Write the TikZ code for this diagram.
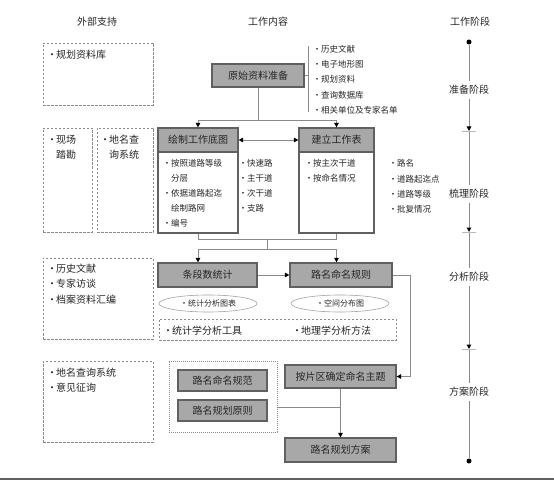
\documentclass[tikz,border=0pt]{standalone}
\usepackage{fontspec}
\setmainfont{Noto Sans CJK SC}
\usetikzlibrary{arrows.meta,calc,shapes.geometric}
\definecolor{boxfill}{HTML}{A8A8A8}
\definecolor{boxline}{HTML}{606060}
\definecolor{conncol}{HTML}{8A8A8A}
\definecolor{txt}{HTML}{262626}
\newcommand\fsL{\fontsize{10bp}{12bp}\selectfont}
\newcommand\fsS{\fontsize{8.5bp}{10bp}\selectfont}
\newcommand\fsE{\fontsize{8bp}{10bp}\selectfont}
\newcommand\bl{\makebox[8bp][c]{·}}
\newcommand\ind{\hspace*{8bp}}
\begin{document}
\begin{tikzpicture}[x=1bp,y=-1bp,
  every node/.style={text=txt, inner sep=0pt},
  gbox/.style={draw=boxline, fill=boxfill, line width=1.2bp, font=\fsL},
  wbox/.style={draw=boxline, fill=white, line width=1.2bp},
  dbox/.style={draw=conncol, dash pattern=on 2.5bp off 1.5bp, line width=0.8bp},
  obox/.style={draw=conncol, dash pattern=on 1bp off 1bp, line width=0.8bp},
  conn/.style={draw=conncol, line width=0.9bp},
  arr/.style={-{Triangle[length=4.5bp,width=4.5bp,color=black]}},
  darr/.style={{Triangle[length=4.5bp,width=4.5bp,color=black]}-{Triangle[length=4.5bp,width=4.5bp,color=black]}},
  lst/.style={font=\fsS, anchor=west},
  big/.style={font=\fsL, anchor=west},
  ell/.style={ellipse, draw=conncol!80, line width=0.6bp, minimum width=98bp, minimum height=17bp, font=\fsE},
  tl/.style={draw=conncol, line width=1bp},
  tickln/.style={draw=conncol!60, line width=0.8bp},
  phase/.style={font=\fsL, inner sep=4bp},
  dot/.style={circle, fill=black, minimum size=5bp}
]
\useasboundingbox (0,0) rectangle (554,480);

% titles
\node[font=\fsL] (tA) at (97,22) {外部支持};
\node[font=\fsL] (tB) at (268,22) {工作内容};
\node[font=\fsL] (tC) at (470,22) {工作阶段};

% external support boxes
\node[dbox, minimum width=110bp, minimum height=62bp] (eA) at (98,74) {};
\node[big] (eA1) at (48,55) {\bl 规划资料库};
\node[dbox, minimum width=49bp, minimum height=104bp] (eB) at (67.5,180) {};
\node[big] (eB1) at (48,140) {\bl 现场};
\node[big] (eB2) at (48,155) {\ind 踏勘};
\node[dbox, minimum width=56bp, minimum height=104bp] (eC) at (125,180) {};
\node[big] (eC1) at (101,140) {\bl 地名查};
\node[big] (eC2) at (101,155) {\ind 询系统};
\node[dbox, minimum width=110bp, minimum height=81bp] (eD) at (98,298.5) {};
\node[big] (eD1) at (48,269) {\bl 历史文献};
\node[big] (eD2) at (48,284) {\bl 专家访谈};
\node[big] (eD3) at (48,300) {\bl 档案资料汇编};
\node[dbox, minimum width=110bp, minimum height=81bp] (eE) at (98,401.5) {};
\node[big] (eE1) at (48,373) {\bl 地名查询系统};
\node[big] (eE2) at (48,388) {\bl 意见征询};

% raw data
\node[gbox, minimum width=92bp, minimum height=23bp] (raw) at (258,75.5) {原始资料准备};
\coordinate (brT) at (308,46);
\coordinate (brB) at (308,112);
\draw[conn] (brT) -- (brB);
\draw[conn] (raw.east) -- (raw.east -| brT);
\node[lst] (r1) at (313,49) {\bl 历史文献};
\node[lst] (r2) at (313,64) {\bl 电子地形图};
\node[lst] (r3) at (313,79) {\bl 规划资料};
\node[lst] (r4) at (313,95) {\bl 查询数据库};
\node[lst] (r5) at (313,110) {\bl 相关单位及专家名单};

% draw base map
\node[wbox, minimum width=80bp, minimum height=81bp] (dmb) at (198,192.5) {};
\node[gbox, minimum width=80bp, minimum height=24bp] (dmh) at (198,140) {绘制工作底图};
\node[lst] (m1) at (163,163) {\bl 按照道路等级};
\node[lst] (m2) at (163,178) {\ind 分层};
\node[lst] (m3) at (163,193) {\bl 依据道路起迄};
\node[lst] (m4) at (163,208) {\ind 绘制路网};
\node[lst] (m5) at (163,223) {\bl 编号};
\node[lst] (q1) at (239,163) {\bl 快速路};
\node[lst] (q2) at (239,178) {\bl 主干道};
\node[lst] (q3) at (239,193) {\bl 次干道};
\node[lst] (q4) at (239,208) {\bl 支路};

% work table
\node[wbox, minimum width=75bp, minimum height=81bp] (tbb) at (336.5,192.5) {};
\node[gbox, minimum width=75bp, minimum height=24bp] (tbh) at (336.5,140) {建立工作表};
\node[lst] (w1) at (305,163) {\bl 按主次干道};
\node[lst] (w2) at (305,178) {\bl 按命名情况};
\node[lst] (n1) at (389,163) {\bl 路名};
\node[lst] (n2) at (389,179) {\bl 道路起迄点};
\node[lst] (n3) at (389,194) {\bl 道路等级};
\node[lst] (n4) at (389,209) {\bl 批复情况};

% connectors top
\coordinate (j1) at ($(raw.south)+(0,33)$);
\draw[conn] (raw.south) -- (j1);
\draw[conn,arr] (j1) -| (dmh.north);
\draw[conn,arr] (j1) -| (tbh.north);
\draw[conn,darr] (dmh.east) -- (tbh.west);

% analysis boxes
\node[gbox, minimum width=99bp, minimum height=24bp] (stat) at (207.5,275) {条段数统计};
\node[gbox, minimum width=102bp, minimum height=24bp] (rule) at (341,275) {路名命名规则};
\node[ell] (el1) at (208,303.5) {\bl 统计分析图表};
\node[ell] (el2) at (340,303.5) {\bl 空间分布图};
\node[dbox, minimum width=237bp, minimum height=21bp] (tools) at (277.5,329.5) {};
\node[big] (to1) at (164,331) {\bl 统计学分析工具};
\node[big] (to2) at (293,331) {\bl 地理学分析方法};

\coordinate (k0) at ($(dmb.south)!0.5!(tbb.south)+(0,6)$);
\coordinate (k9) at ($(k0)+(0,10)$);
\draw[conn] (dmb.south) |- (k0) -| (tbb.south);
\draw[conn] (k0) -- (k9);
\draw[conn,arr] (k9) -| (stat.north -| dmb.south);
\draw[conn,arr] (k9) -| (rule.north -| tbb.south);
\draw[conn,arr] (stat.east) -- (rule.west);

% scheme
\node[gbox, minimum width=111bp, minimum height=23bp] (zone) at (340.5,376.5) {按片区确定命名主题};
\node[gbox, minimum width=111bp, minimum height=24bp] (plan) at (340.5,450) {路名规划方案};
\node[obox, minimum width=108bp, minimum height=71bp] (grp) at (223,396.5) {};
\node[gbox, minimum width=89bp, minimum height=21bp] (spec) at (222.5,380.5) {路名命名规范};
\node[gbox, minimum width=89bp, minimum height=21bp] (prin) at (222.5,410.5) {路名规划原则};
\coordinate (rr) at ($(rule.east)+(18,0)$);
\draw[conn,arr] (rule.east) -- (rr) |- (zone.east);
\draw[conn,arr] (zone.south) -- (plan.north);
\coordinate (gj) at ($(grp.east)+(0,10.5)$);
\draw[conn] (gj) -- (gj -| zone.south);

% timeline
\node[dot] (d0) at (469,42) {};
\node[phase] (p1) at (469,90) {准备阶段};
\coordinate (k1) at (469,131);
\node[phase] (p2) at (469,194) {梳理阶段};
\coordinate (k2) at (469,232);
\node[phase] (p3) at (469,277) {分析阶段};
\coordinate (k3) at (469,349);
\node[phase] (p4) at (469,392) {方案阶段};
\node[dot] (d1) at (469,461) {};
\draw[tl] (d0) -- (p1);
\draw[tl,arr] (p1) -- (k1);
\draw[tl] (k1) -- (p2);
\draw[tl,arr] (p2) -- (k2);
\draw[tl] (k2) -- (p3);
\draw[tl,arr] (p3) -- (k3);
\draw[tl] (k3) -- (p4);
\draw[tl] (p4) -- (d1);
\draw[tickln] ($(k1)+(-7,0)$) -- ($(k1)+(7,0)$);
\draw[tickln] ($(k2)+(-7,0)$) -- ($(k2)+(7,0)$);
\draw[tickln] ($(k3)+(-7,0)$) -- ($(k3)+(7,0)$);

% bottom rule
\coordinate (bl) at (0,479);
\coordinate (br) at (554,479);
\draw[draw=boxline, line width=2bp] (bl) -- (br);
\end{tikzpicture}
\end{document}
